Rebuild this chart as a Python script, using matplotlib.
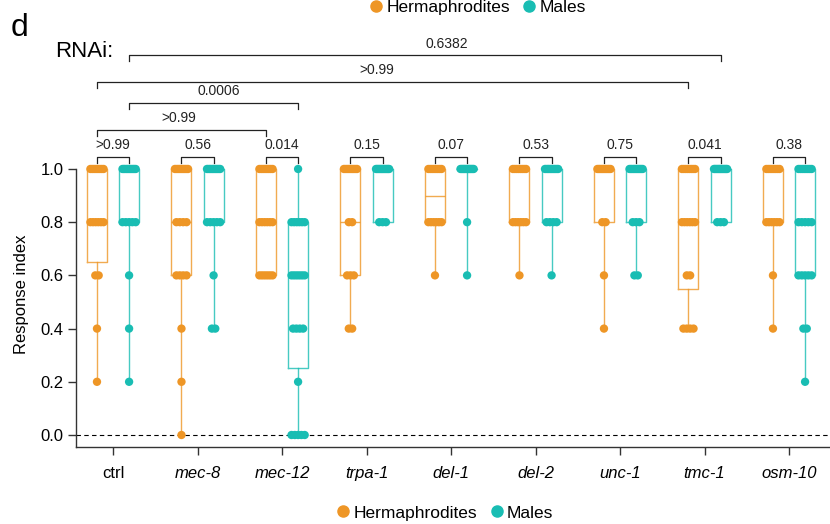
import numpy as np
import matplotlib
matplotlib.use("Agg")
import matplotlib.pyplot as plt
from matplotlib.lines import Line2D

plt.rcParams['font.family'] = ['Liberation Sans', 'DejaVu Sans']

# ---------------- data ----------------
categories = ['ctrl', 'mec-8', 'mec-12', 'trpa-1', 'del-1', 'del-2', 'unc-1', 'tmc-1', 'osm-10']
italic = [False, True, True, True, True, True, True, True, True]
levels = [0.0, 0.2, 0.4, 0.6, 0.8, 1.0]

# number of animals at each response level (0.0 ... 1.0)
herm_counts = [
    [0, 1, 1, 2, 6, 8],
    [1, 1, 1, 4, 4, 9],
    [0, 0, 0, 6, 6, 8],
    [0, 0, 2, 3, 2, 9],
    [0, 0, 0, 1, 6, 8],
    [0, 0, 0, 1, 6, 8],
    [0, 0, 1, 1, 2, 10],
    [0, 0, 4, 2, 6, 8],
    [0, 0, 1, 1, 6, 8],
]
male_counts = [
    [0, 1, 1, 1, 5, 10],
    [0, 0, 2, 1, 5, 10],
    [5, 1, 4, 6, 6, 1],
    [0, 0, 0, 0, 3, 12],
    [0, 0, 0, 1, 1, 12],
    [0, 0, 0, 1, 4, 10],
    [0, 0, 0, 2, 3, 10],
    [0, 0, 0, 0, 3, 12],
    [0, 1, 2, 5, 5, 8],
]

# box statistics: q1, median, q3, min, max
herm_q1 = [0.65, 0.6, 0.6, 0.6, 0.8, 0.8, 0.8, 0.55, 0.8]
herm_med = [0.8, 0.8, 0.8, 0.8, 0.9, 1.0, 1.0, 0.8, 1.0]
herm_q3 = [1.0] * 9
herm_min = [0.2, 0.0, 0.6, 0.4, 0.6, 0.6, 0.4, 0.4, 0.4]
herm_max = [1.0] * 9

male_q1 = [0.8, 0.8, 0.25, 0.8, 1.0, 0.8, 0.8, 0.8, 0.6]
male_med = [1.0, 1.0, 0.6, 1.0, 1.0, 1.0, 1.0, 1.0, 0.8]
male_q3 = [1.0, 1.0, 0.8, 1.0, 1.0, 1.0, 1.0, 1.0, 1.0]
male_min = [0.2, 0.4, 0.0, 0.8, 0.6, 0.6, 0.6, 0.8, 0.2]
male_max = [1.0] * 9

# within-genotype herm vs male p-values
pair_pvals = ['>0.99', '0.56', '0.014', '0.15', '0.07', '0.53', '0.75', '0.041', '0.38']

# between-genotype comparisons: (cat a, sex a, cat b, sex b, label)
long_comparisons = [
    (0, 'H', 2, 'H', '>0.99'),
    (0, 'M', 2, 'M', '0.0006'),
    (0, 'H', 7, 'H', '>0.99'),
    (0, 'M', 7, 'M', '0.6382'),
]

# ---------------- layout / style ----------------
orange = '#EE9626'
teal = '#19BDB3'
off = 0.19
box_w = 0.237
bracket_y = [1.147, 1.248, 1.327, 1.427]
label_x = [0.78, 1.254, 3.12, 3.95]

fig = plt.figure(figsize=(8.30, 5.24), dpi=100)
ax = fig.add_axes([0.0916, 0.147, 0.9084, 0.5813])
ax.set_xlim(-0.438, 8.485)
ax.set_ylim(-0.045, 1.1)

x = np.arange(len(categories))


def draw_group(xpos, q1, med, q3, lo, hi, counts, color):
    stats = [dict(q1=q1[i], med=med[i], q3=q3[i], whislo=lo[i], whishi=hi[i], fliers=[])
             for i in range(len(xpos))]
    lp = dict(color=color, linewidth=1.0, alpha=0.8)
    ax.bxp(stats, positions=xpos, widths=box_w, showcaps=False, showfliers=False,
           boxprops=lp, whiskerprops=lp, medianprops=lp, manage_ticks=False, zorder=2)
    spacing = 0.04
    cap = 0.078
    for i, xp in enumerate(xpos):
        for lev, n in zip(levels, counts[i]):
            if n == 0:
                continue
            half = min(spacing * (n - 1) / 2, cap)
            xs = xp + np.linspace(-half, half, n)
            ax.scatter(xs, [lev] * n, s=36, color=color, edgecolors='none',
                       zorder=3, clip_on=False)


draw_group(x - off, herm_q1, herm_med, herm_q3, herm_min, herm_max, herm_counts, orange)
draw_group(x + off, male_q1, male_med, male_q3, male_min, male_max, male_counts, teal)

ax.axhline(0, color='black', linestyle=(0, (4, 3)), linewidth=0.8, zorder=1)

# pair brackets
for i, lab in enumerate(pair_pvals):
    x0, x1 = i - off, i + off
    ax.plot([x0, x0, x1, x1], [1.023, 1.045, 1.045, 1.023], color='#222222',
            linewidth=0.9, clip_on=False)
    ax.text(i, 1.062, lab, ha='center', va='bottom', fontsize=10, color='#222222')

# long brackets
for (a, sa, b, sb, lab), yb, lx in zip(long_comparisons, bracket_y, label_x):
    xa = a + (-off if sa == 'H' else off)
    xb = b + (-off if sb == 'H' else off)
    ax.plot([xa, xa, xb, xb], [yb - 0.023, yb, yb, yb - 0.023], color='#222222',
            linewidth=0.9, clip_on=False)
    ax.text(lx, yb + 0.017, lab, ha='center', va='bottom', fontsize=10, color='#222222')

ax.text(-0.34, 1.44, 'RNAi:', ha='center', va='center', fontsize=16, clip_on=False)
fig.text(0.013, 1 - 36 / 524, 'd', fontsize=23, va='baseline', ha='left')

# axes styling
for s in ['top', 'right']:
    ax.spines[s].set_visible(False)
for s in ['left', 'bottom']:
    ax.spines[s].set_linewidth(1.0)
    ax.spines[s].set_color('#333333')
ax.spines['left'].set_bounds(-0.045, 1.0)

ax.set_yticks([0.0, 0.2, 0.4, 0.6, 0.8, 1.0])
ax.set_yticklabels(['0.0', '0.2', '0.4', '0.6', '0.8', '1.0'])
ax.set_xticks(x)
ax.set_xticklabels(categories)
for t, it in zip(ax.get_xticklabels(), italic):
    if it:
        t.set_style('italic')
ax.tick_params(axis='both', labelsize=12, length=6, width=1.0, color='#333333', direction='out')
ax.tick_params(axis='x', pad=8)
ax.tick_params(axis='y', pad=3)
ax.set_ylabel('Response index', fontsize=12, labelpad=8)

handles = [Line2D([], [], marker='o', linestyle='none', color=orange, markersize=8,
                  label='Hermaphrodites'),
           Line2D([], [], marker='o', linestyle='none', color=teal, markersize=8,
                  label='Males')]
fig.legend(handles=handles, loc='center', bbox_to_anchor=(0.574, 0.985), ncol=2,
           frameon=False, fontsize=12.5, handletextpad=0.1, columnspacing=0.6,
           handlelength=1.0, borderpad=0, borderaxespad=0)
fig.legend(handles=handles, loc='center', bbox_to_anchor=(0.535, 0.021), ncol=2,
           frameon=False, fontsize=12.5, handletextpad=0.1, columnspacing=0.6,
           handlelength=1.0, borderpad=0, borderaxespad=0)

fig.savefig('out.png', dpi=100)
